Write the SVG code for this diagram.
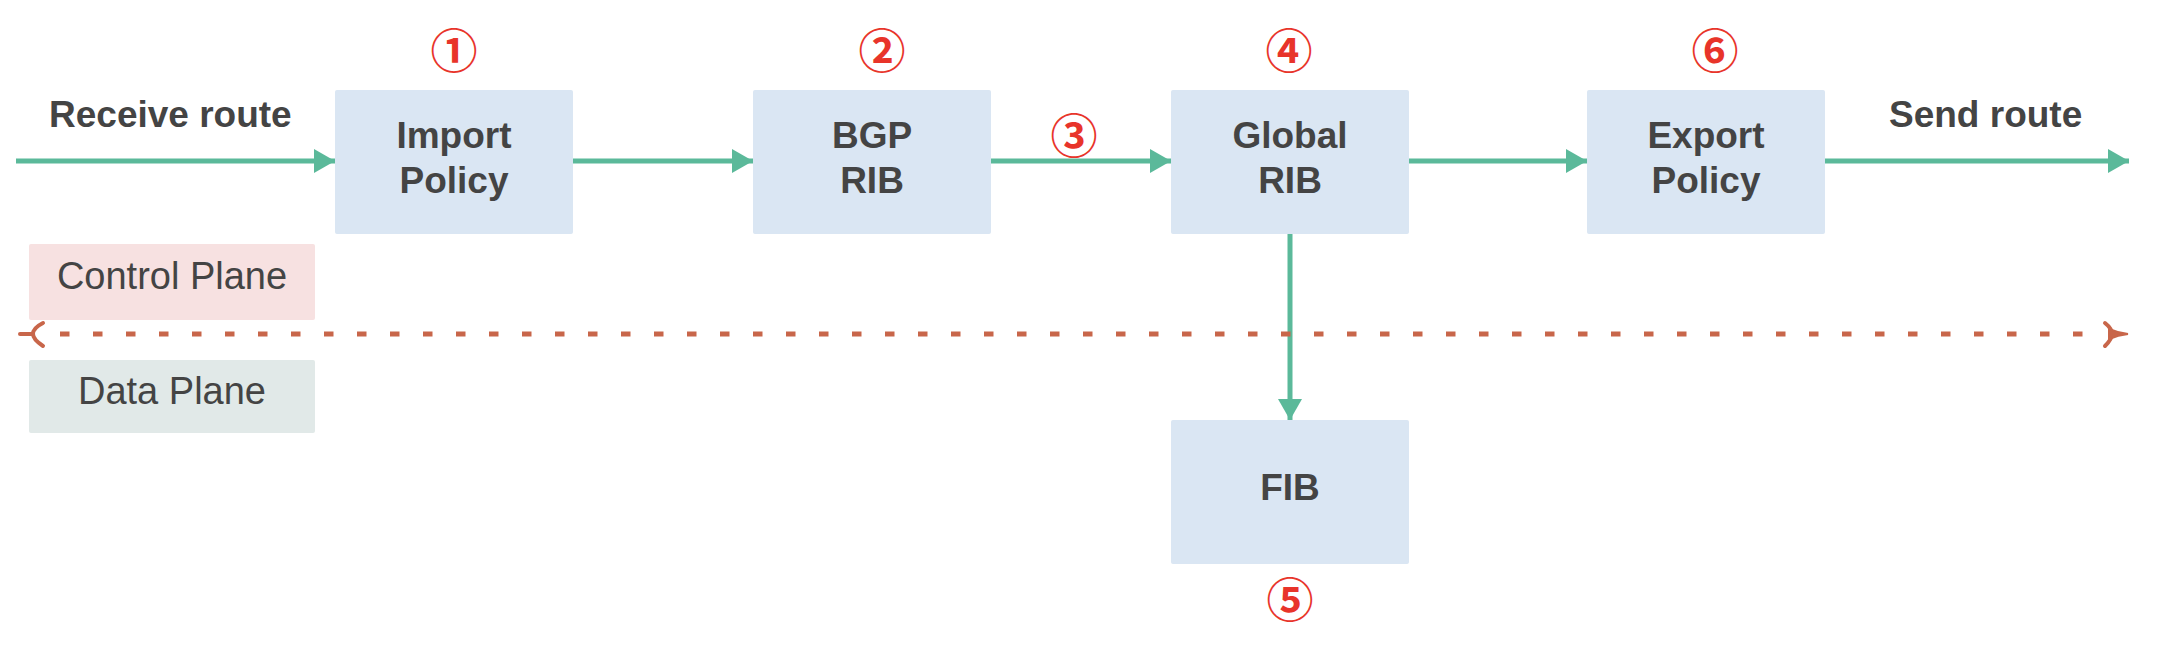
<svg xmlns="http://www.w3.org/2000/svg" width="2172" height="648" viewBox="0 0 2172 648">
<defs>
<style>
.box{fill:#dae6f3;}
.lbl{font-family:"Liberation Sans",Arial,sans-serif;font-weight:bold;font-size:37px;fill:#444444;text-anchor:middle;}
.side{font-family:"Liberation Sans",Arial,sans-serif;font-weight:bold;font-size:37px;fill:#444444;}
.plane{font-family:"Liberation Sans",Arial,sans-serif;font-size:38px;fill:#444444;text-anchor:middle;}
.num{font-family:"Noto Sans CJK SC","DejaVu Sans",sans-serif;font-weight:700;font-size:47px;fill:#e8342a;text-anchor:middle;dominant-baseline:central;}
.flow{stroke:#5bb99a;stroke-width:5;fill:none;marker-end:url(#tri);}
.dash{stroke:#c8664a;stroke-width:5;fill:none;stroke-dasharray:9.5 23.5;}
.mk{stroke:#c8664a;stroke-width:4;fill:none;stroke-linecap:round;}
</style>
<marker id="tri" markerUnits="userSpaceOnUse" markerWidth="21" markerHeight="24" refX="21" refY="12" orient="auto">
<path d="M0,0 L21,12 L0,24 Z" fill="#5bb99a"/>
</marker>
</defs>
<rect width="2172" height="648" fill="#ffffff"/>

<g id="planes">
<rect x="29" y="244" width="286" height="76" rx="2" fill="#f7e1e1"/>
<text class="plane" x="172" y="289">Control Plane</text>
<rect x="29" y="360" width="286" height="73" rx="2" fill="#e1e9e8"/>
<text class="plane" x="172" y="404">Data Plane</text>
</g>

<g id="connectors">
<line class="flow" x1="16" y1="161" x2="335" y2="161"/>
<line class="flow" x1="573" y1="161" x2="753" y2="161"/>
<line class="flow" x1="991" y1="161" x2="1171" y2="161"/>
<line class="flow" x1="1409" y1="161" x2="1587" y2="161"/>
<line class="flow" x1="1825" y1="161" x2="2129" y2="161"/>
<line class="flow" x1="1290" y1="234" x2="1290" y2="420"/>
<line class="dash" x1="60" y1="334" x2="2083" y2="334"/>
<path class="mk" d="M20,334 L33,334 M43,323 C37,326 33,330 33,334 C33,338 37,342 43,346"/>
<path class="mk" d="M2105,323 C2110,327 2112,331 2112,334 C2112,337 2110,341 2105,346"/>
<path d="M2109,329 Q2118,333 2128,334 Q2118,335 2109,339 Z" fill="#c8664a" stroke="#c8664a" stroke-width="2"/>
</g>

<g id="receive-route"><text class="side" x="49" y="127">Receive route</text></g>
<g id="send-route"><text class="side" x="1889" y="127">Send route</text></g>

<g id="import-policy">
<rect class="box" x="335" y="90" width="238" height="144" rx="2"/>
<text class="lbl" x="454" y="148">Import</text>
<text class="lbl" x="454" y="193">Policy</text>
</g>
<g id="bgp-rib">
<rect class="box" x="753" y="90" width="238" height="144" rx="2"/>
<text class="lbl" x="872" y="148">BGP</text>
<text class="lbl" x="872" y="193">RIB</text>
</g>
<g id="global-rib">
<rect class="box" x="1171" y="90" width="238" height="144" rx="2"/>
<text class="lbl" x="1290" y="148">Global</text>
<text class="lbl" x="1290" y="193">RIB</text>
</g>
<g id="export-policy">
<rect class="box" x="1587" y="90" width="238" height="144" rx="2"/>
<text class="lbl" x="1706" y="148">Export</text>
<text class="lbl" x="1706" y="193">Policy</text>
</g>
<g id="fib">
<rect class="box" x="1171" y="420" width="238" height="144" rx="2"/>
<text class="lbl" x="1290" y="500">FIB</text>
</g>

<g id="step-numbers">
<text class="num" x="454" y="47">①</text>
<text class="num" x="882" y="47">②</text>
<text class="num" x="1074" y="132">③</text>
<text class="num" x="1289" y="47">④</text>
<text class="num" x="1290" y="596">⑤</text>
<text class="num" x="1715" y="47">⑥</text>
</g>
</svg>
